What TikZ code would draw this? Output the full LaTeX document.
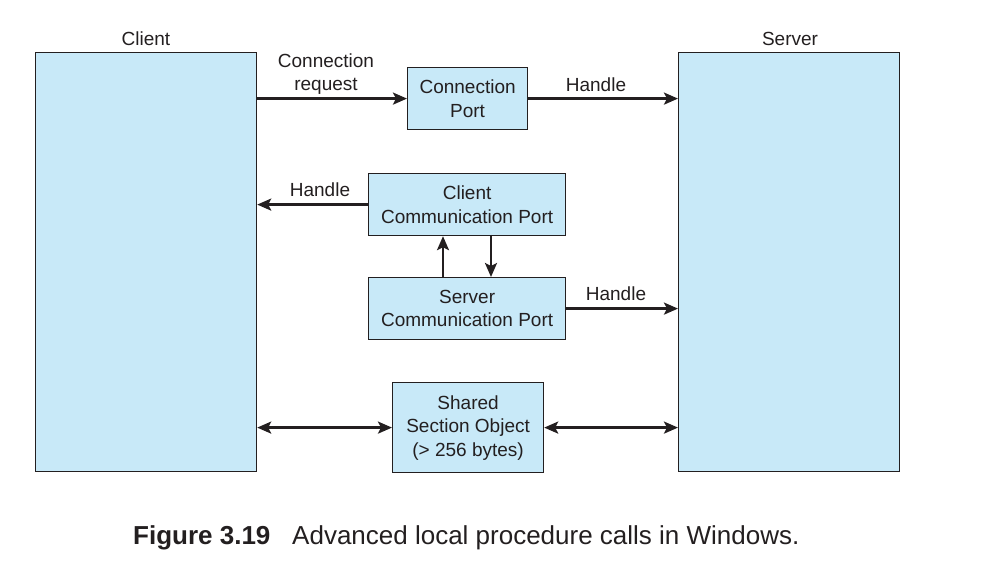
\documentclass[tikz,border=0pt]{standalone}
\usepackage{fontspec}
\setmainfont{Liberation Sans}
\usetikzlibrary{arrows.meta}
\definecolor{boxfill}{HTML}{C8E9F8}
\definecolor{ink}{HTML}{231F20}
\tikzset{
  box/.style={draw=ink, line width=1.2pt, fill=boxfill, inner sep=0pt, anchor=north west, align=center, text=ink, font=\fontsize{19}{23.5}\selectfont},
  lbl/.style={font=\fontsize{19}{23.5}\selectfont, text=ink, align=center, inner sep=0pt},
  tip/.tip={Stealth[length=14pt,width=12pt,inset=3pt]},
  arr/.style={draw=ink, line width=2.4pt, -tip},
  darr/.style={draw=ink, line width=2.4pt, tip-tip}
}
\begin{document}
\begin{tikzpicture}[x=1pt,y=-1pt]
\useasboundingbox (0,0) rectangle (994,564);
% big boxes
\node[box, minimum width=221pt, minimum height=419pt] (client) at (35,52) {};
\node[box, minimum width=221pt, minimum height=419pt] (server) at (678,52) {};
\node[lbl, anchor=base] (clientlbl) at (146,46) {Client};
\node[lbl, anchor=base] (serverlbl) at (790,46) {Server};
% small boxes
\node[box, minimum width=120pt, minimum height=62pt] (cp) at (407,67) {Connection\\Port};
\node[box, minimum width=197pt, minimum height=62pt] (ccp) at (368,173) {Client\\Communication Port};
\node[box, minimum width=197pt, minimum height=62pt] (scp) at (368,277) {Server\\Communication Port};
\node[box, minimum width=151pt, minimum height=90pt] (sso) at (392,382) {Shared\\Section Object\\(> 256 bytes)};
% arrows
\draw[arr] (client.east |- cp.west) -- (cp.west);
\node[lbl, anchor=base] (crl1) at (326,68) {Connection};
\node[lbl, anchor=base] (crl2) at (326,91) {request};
\draw[arr] (cp.east) -- (server.west |- cp.east);
\node[lbl, anchor=base] (h1) at (596,92) {Handle};
\draw[arr] (ccp.west) -- (client.east |- ccp.west);
\node[lbl, anchor=base] (h2) at (320,197) {Handle};
\draw[arr] (scp.east) -- (server.west |- scp.east);
\node[lbl, anchor=base] (h3) at (616,301) {Handle};
\draw[arr] (443,277) coordinate (u1) -- (u1 |- ccp.south);
\draw[arr] (491,235) coordinate (d1) -- (d1 |- scp.north);
\draw[darr] (client.east |- sso.west) -- (sso.west);
\draw[darr] (sso.east) -- (server.west |- sso.east);
% caption
\node[anchor=base west, inner sep=0pt, text=ink, font=\fontsize{26}{30}\selectfont\bfseries] (fig) at (133,544) {Figure 3.19};
\node[anchor=base west, inner sep=0pt, text=ink, font=\fontsize{26}{30}\selectfont] (cap) at (292,544) {Advanced local procedure calls in Windows.};
\end{tikzpicture}
\end{document}
